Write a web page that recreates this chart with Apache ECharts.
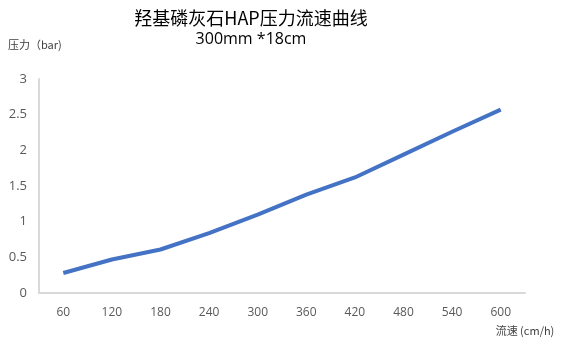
<!DOCTYPE html>
<html>
<head>
<meta charset="utf-8">
<script src="https://cdn.jsdelivr.net/npm/echarts@6/dist/echarts.min.js"></script>
<style>
  html, body { margin: 0; padding: 0; background: #fff; }
  #chart { width: 564px; height: 352px; }
</style>
</head>
<body>
<div id="chart"></div>
<script>
// 流速 (cm/h)
const flowRates = ['60', '120', '180', '240', '300', '360', '420', '480', '540', '600'];
// 压力 (bar)
const pressures = [0.28, 0.47, 0.61, 0.84, 1.1, 1.38, 1.62, 1.94, 2.26, 2.57];

const chart = echarts.init(document.getElementById('chart'));
chart.setOption({
  animation: false,
  title: {
    text: '羟基磷灰石HAP压力流速曲线',
    subtext: '300mm *18cm',
    left: 246,
    textAlign: 'center',
    top: 4,
    itemGap: 4,
    textStyle: {
      fontFamily: 'Noto Sans CJK SC',
      fontSize: 18,
      fontWeight: 'normal',
      color: '#000'
    },
    subtextStyle: {
      fontFamily: 'Open Sans',
      fontSize: 16,
      color: '#000'
    }
  },
  grid: {
    left: 39,
    right: 39,
    top: 79,
    bottom: 59,
    outerBoundsMode: 'none'
  },
  xAxis: {
    type: 'category',
    data: flowRates,
    boundaryGap: true,
    name: '流速 (cm/h)',
    nameLocation: 'end',
    nameGap: 0,
    nameTextStyle: {
      fontFamily: 'Noto Sans CJK SC',
      fontSize: 11,
      color: '#404040',
      align: 'center',
      verticalAlign: 'top',
      padding: [32, 0, 0, 0]
    },
    axisLine: { lineStyle: { color: '#d9d9d9', width: 2 } },
    axisTick: { show: false },
    axisLabel: {
      margin: 14,
      fontFamily: 'Open Sans',
      fontSize: 12,
      color: '#595959'
    }
  },
  yAxis: {
    type: 'value',
    min: 0,
    max: 3,
    interval: 0.5,
    name: '压力（bar)',
    nameLocation: 'end',
    nameGap: 0,
    nameTextStyle: {
      fontFamily: 'Noto Sans CJK SC',
      fontSize: 11,
      color: '#404040',
      align: 'left',
      padding: [0, 0, 29, -31]
    },
    axisLine: { show: true, lineStyle: { color: '#d9d9d9', width: 2 } },
    axisTick: { show: false },
    splitLine: { show: false },
    axisLabel: {
      margin: 12,
      fontFamily: 'Open Sans',
      fontSize: 13,
      color: '#595959'
    }
  },
  series: [{
    type: 'line',
    data: pressures,
    symbol: 'none',
    lineStyle: { color: '#4472c4', width: 4 }
  }]
});
</script>
</body>
</html>
